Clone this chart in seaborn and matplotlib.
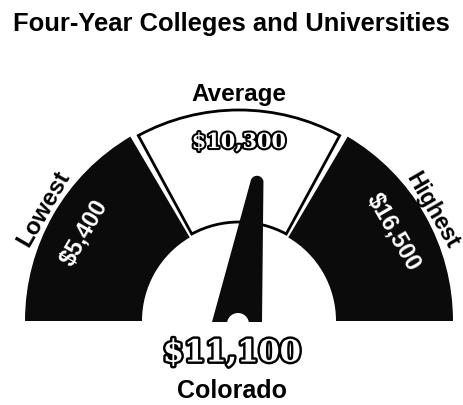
import numpy as np
import matplotlib
matplotlib.use("Agg")
import matplotlib.pyplot as plt
import seaborn as sns
from matplotlib.patches import Wedge, Polygon
import matplotlib.patheffects as pe

# ---- data ----
categories = ["Lowest", "Average", "Highest"]
values = [5400, 10300, 16500]
value_labels = ["$5,400", "$10,300", "$16,500"]
state = "Colorado"
state_value = 11100
state_label = "$11,100"
title = "Four-Year Colleges and Universities"

sns.set_theme(style="white")
plt.rcParams['font.family'] = ['Liberation Sans', 'DejaVu Sans']

W, H = 463, 406
fig = plt.figure(figsize=(W / 100, H / 100), dpi=100)
ax = fig.add_axes([0, 0, 1, 1])
ax.set_xlim(0, W)
ax.set_ylim(0, H)
ax.set_aspect('equal')
ax.axis('off')

cx, cy = 239, H - 322
r_out, r_in = 214, 97
seg_angles = [(120.5, 180), (61.5, 118.5), (0, 59.5)]  # lowest, average, highest
seg_centers = [150, 90, 30]
label_radius = [226, 227, 223]
label_size = [17.5, 17.5, 16.5]


def polar(r, theta):
    t = np.radians(theta)
    return cx + r * np.cos(t), cy + r * np.sin(t)


for i, (cat, lab) in enumerate(zip(categories, value_labels)):
    a0, a1 = seg_angles[i]
    if cat == "Average":
        ax.add_patch(Wedge((cx, cy), r_out - 3, a0, a1, width=r_out - 3 - r_in - 2,
                           facecolor='white', edgecolor='black', linewidth=2))
    else:
        ax.add_patch(Wedge((cx, cy), r_out, a0, a1, width=r_out - r_in,
                           facecolor='#0b0b0b', edgecolor='none'))
    th = seg_centers[i]
    # category label outside the arc
    x, y = polar(label_radius[i], th)
    ax.text(x, y, cat, rotation=th - 90, ha='center', va='center',
            fontsize=label_size[i], fontweight='bold', color='black',
            rotation_mode='anchor')
    # value label inside the segment
    x, y = polar(179, th)
    if cat == "Average":
        ax.text(x, y, lab, rotation=0, ha='center', va='center',
                fontsize=15, fontweight='bold', color='white', family='DejaVu Serif',
                path_effects=[pe.withStroke(linewidth=3, foreground='black')])
    else:
        ax.text(x, y, lab, rotation=th - 90, ha='center', va='center',
                fontsize=17, fontweight='bold', color='white', rotation_mode='anchor')

# ---- needle ----
needle_theta = np.interp(state_value, values, seg_centers)
px, py = 238, cy - 1
L, tip_r, half_base = 141, 6.5, 25
t = np.radians(needle_theta)
tx, ty = px + L * np.cos(t), py + L * np.sin(t)
arc = np.radians(np.linspace(needle_theta + 90, needle_theta - 90, 25))
tip_pts = [(tx + tip_r * np.cos(a), ty + tip_r * np.sin(a)) for a in arc]
pts = [(px - half_base - 1, py)] + tip_pts + [(px + half_base - 1, py)]
ax.add_patch(Polygon(pts, closed=True, facecolor='#0b0b0b', edgecolor='none'))
ax.add_patch(Wedge((px, py - 2), 11, 0, 180, facecolor='white', edgecolor='none'))

# ---- texts ----
ax.text(W / 2, H - 24, title, ha='center', va='center', fontsize=18.4,
        fontweight='bold', color='black')
ax.text(W / 2, H - 354, state_label, ha='center', va='center', fontsize=22,
        fontweight='bold', color='white', family='DejaVu Serif',
        path_effects=[pe.withStroke(linewidth=3.5, foreground='black')])
ax.text(W / 2, H - 391, state, ha='center', va='center', fontsize=18,
        fontweight='bold', color='black')

fig.savefig('out.png', dpi=100, facecolor='white')
